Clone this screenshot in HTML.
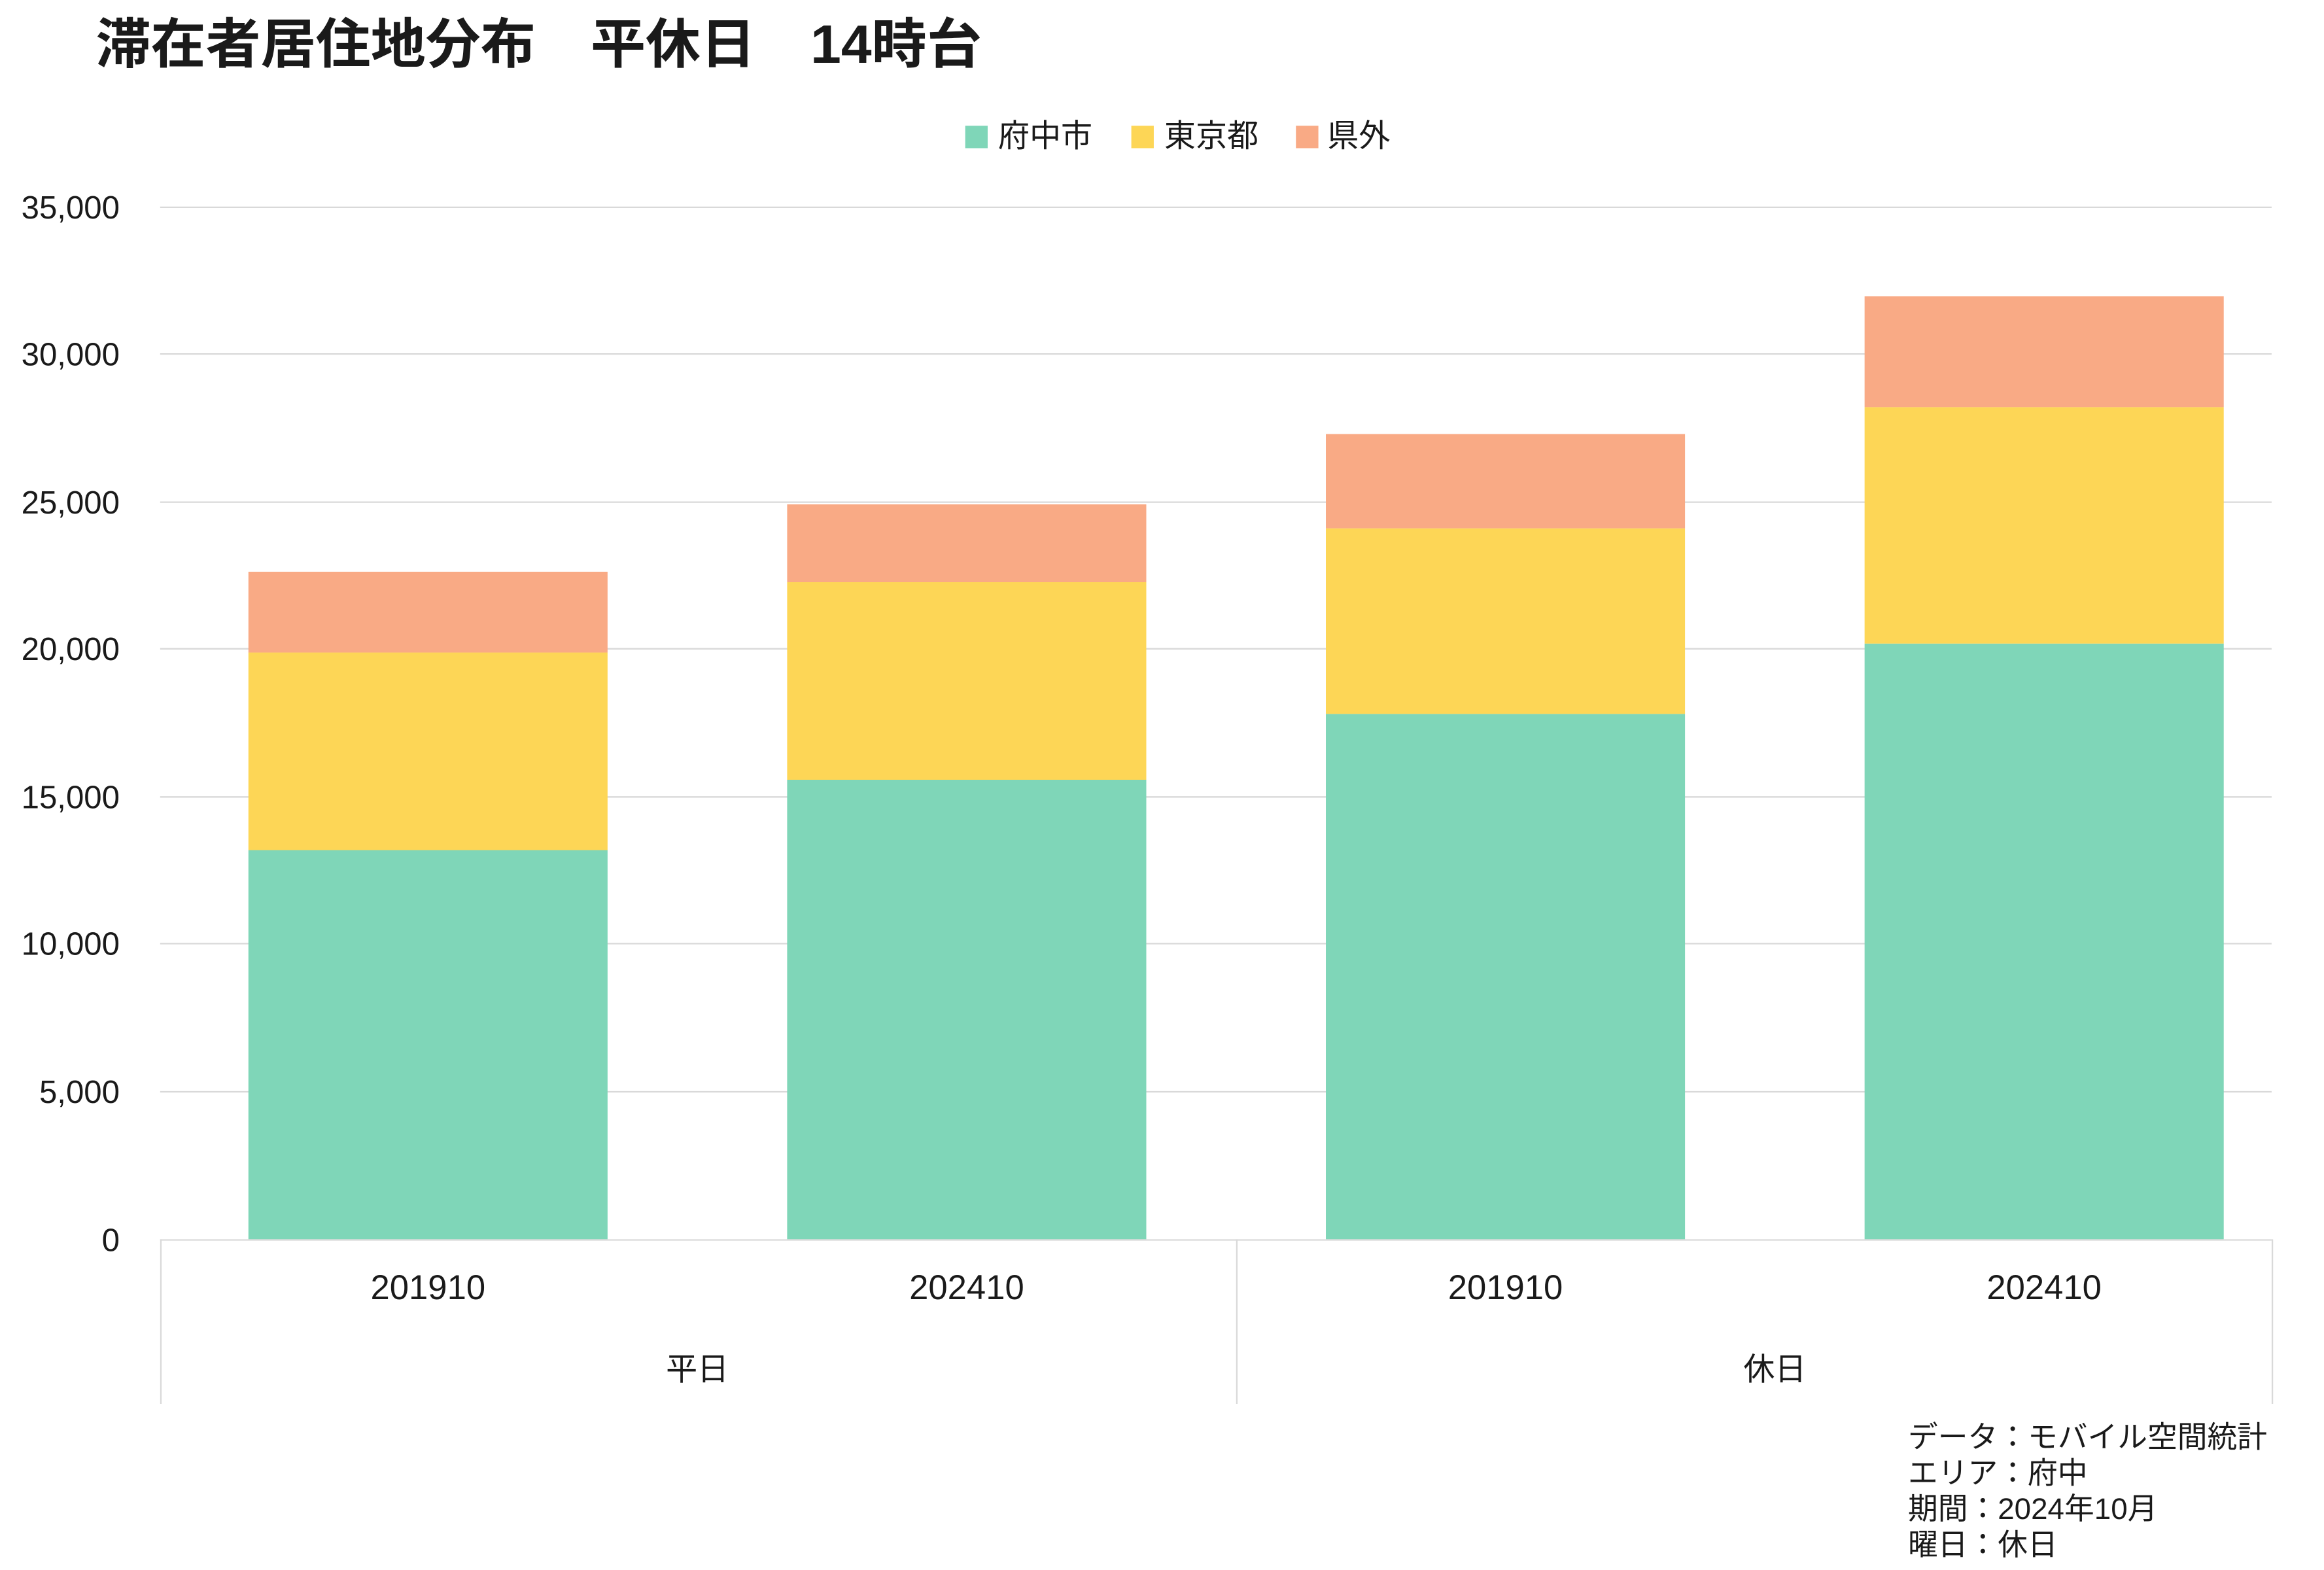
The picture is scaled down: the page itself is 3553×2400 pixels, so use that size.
<!DOCTYPE html>
<html><head><meta charset="utf-8"><style>
html,body{margin:0;padding:0;background:#fff;}
svg{display:block;}
text{font-family:"Liberation Sans","Noto Sans CJK JP",sans-serif;fill:#1a1a1a;}
</style></head><body>
<svg width="3553" height="2400" viewBox="0 0 1553 1049" xmlns="http://www.w3.org/2000/svg">
<rect width="1553" height="1049" fill="#fff"/>
<text x="64" y="42" font-size="36" font-weight="bold" fill="#000" textLength="592" lengthAdjust="spacingAndGlyphs">滞在者居住地分布　平休日　14時台</text>
<rect x="645" y="84" width="15" height="15" fill="#7fd6b8"/>
<text x="667" y="98" font-size="21">府中市</text>
<rect x="756" y="84" width="15" height="15" fill="#fdd656"/>
<text x="778" y="98" font-size="21">東京都</text>
<rect x="866" y="84" width="15" height="15" fill="#f9aa85"/>
<text x="887" y="98" font-size="21">県外</text>
<g stroke="#d9d9d9" stroke-width="1">
<line x1="107" y1="138.5" x2="1518" y2="138.5"/>
<line x1="107" y1="236.5" x2="1518" y2="236.5"/>
<line x1="107" y1="335.5" x2="1518" y2="335.5"/>
<line x1="107" y1="433.5" x2="1518" y2="433.5"/>
<line x1="107" y1="532.5" x2="1518" y2="532.5"/>
<line x1="107" y1="630.5" x2="1518" y2="630.5"/>
<line x1="107" y1="729.5" x2="1518" y2="729.5"/>
</g>
<g font-size="21.5" text-anchor="end">
<text x="80" y="146">35,000</text>
<text x="80" y="244">30,000</text>
<text x="80" y="343">25,000</text>
<text x="80" y="441">20,000</text>
<text x="80" y="540">15,000</text>
<text x="80" y="638">10,000</text>
<text x="80" y="737">5,000</text>
<text x="80" y="836">0</text>
</g>
<rect x="166" y="568" width="240" height="260" fill="#7fd6b8"/>
<rect x="166" y="436" width="240" height="132" fill="#fdd656"/>
<rect x="166" y="382" width="240" height="54" fill="#f9aa85"/>
<rect x="526" y="521" width="240" height="307" fill="#7fd6b8"/>
<rect x="526" y="389" width="240" height="132" fill="#fdd656"/>
<rect x="526" y="337" width="240" height="52" fill="#f9aa85"/>
<rect x="886" y="477" width="240" height="351" fill="#7fd6b8"/>
<rect x="886" y="353" width="240" height="124" fill="#fdd656"/>
<rect x="886" y="290" width="240" height="63" fill="#f9aa85"/>
<rect x="1246" y="430" width="240" height="398" fill="#7fd6b8"/>
<rect x="1246" y="272" width="240" height="158" fill="#fdd656"/>
<rect x="1246" y="198" width="240" height="74" fill="#f9aa85"/>
<g stroke="#d9d9d9" stroke-width="1">
<line x1="107" y1="828.5" x2="1518" y2="828.5"/>
<line x1="107.5" y1="828" x2="107.5" y2="938"/>
<line x1="826.5" y1="828" x2="826.5" y2="938"/>
<line x1="1518.5" y1="828" x2="1518.5" y2="938"/>
</g>
<g font-size="23" text-anchor="middle">
<text x="286" y="868">201910</text>
<text x="646" y="868">202410</text>
<text x="1006" y="868">201910</text>
<text x="1366" y="868">202410</text>
</g>
<g font-size="21" text-anchor="middle">
<text x="466" y="922">平日</text>
<text x="1186" y="922">休日</text>
</g>
<g font-size="20">
<text x="1275" y="967">データ：モバイル空間統計</text>
<text x="1275" y="991">エリア：府中</text>
<text x="1275" y="1015">期間：2024年10月</text>
<text x="1275" y="1039">曜日：休日</text>
</g>
</svg>
</body></html>
